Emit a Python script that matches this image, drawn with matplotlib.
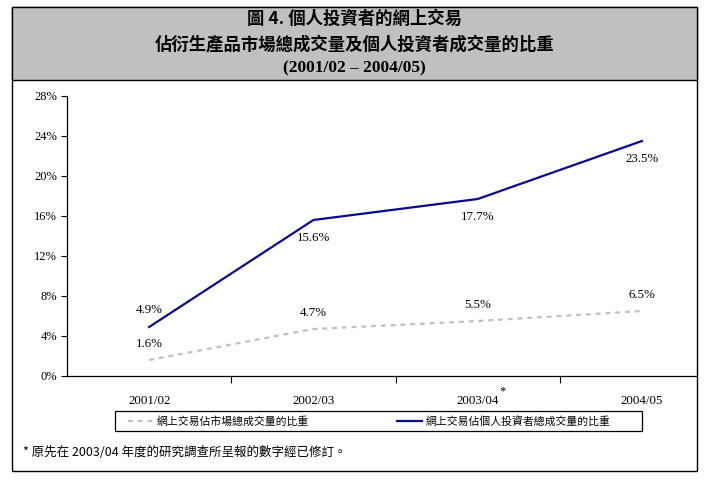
import matplotlib
matplotlib.use("Agg")
import matplotlib.pyplot as plt
from matplotlib.patches import Rectangle
from matplotlib.ticker import FuncFormatter, FixedLocator, NullFormatter

# ---- data ----
categories = ["2001/02", "2002/03", "2003/04", "2004/05"]
market_share = [1.6, 4.7, 5.5, 6.5]        # 網上交易佔市場總成交量的比重 (%)
retail_share = [4.9, 15.6, 17.7, 23.5]     # 網上交易佔個人投資者總成交量的比重 (%)
series_labels = ["網上交易佔市場總成交量的比重", "網上交易佔個人投資者總成交量的比重"]
title_lines = ["圖 4. 個人投資者的網上交易",
               "佔衍生產品市場總成交量及個人投資者成交量的比重",
               "(2001/02 – 2004/05)"]
footnote = "* 原先在 2003/04 年度的研究調查所呈報的數字經已修訂。"
yticks = [0, 4, 8, 12, 16, 20, 24, 28]

SERIF = ["Liberation Serif", "Noto Sans CJK TC", "DejaVu Sans"]
CJK = ["Noto Sans CJK TC", "DejaVu Sans"]

W, H = 709, 482
fig = plt.figure(figsize=(W / 100, H / 100), dpi=100)

def fx(px):
    return px / W

def fy(py):
    return 1 - py / H

# outer frame and title band
fig.patches.append(Rectangle((fx(12), fy(471)), fx(697) - fx(12), fy(7) - fy(471),
                             transform=fig.transFigure, facecolor="white",
                             edgecolor="black", lw=1.0, zorder=-2))
fig.patches.append(Rectangle((fx(12), fy(80)), fx(697) - fx(12), fy(7) - fy(80),
                             transform=fig.transFigure, facecolor="#c0c0c0",
                             edgecolor="black", lw=1.0, zorder=-1))
# legend frame
fig.patches.append(Rectangle((fx(115), fy(431)), fx(642) - fx(115), fy(411) - fy(431),
                             transform=fig.transFigure, facecolor="none",
                             edgecolor="black", lw=0.9, zorder=-1))

title_y = [19, 45, 68]
for t, yy in zip(title_lines, title_y):
    fig.text(0.5 * (fx(12) + fx(697)), fy(yy), t, ha="center", va="center",
             fontsize=12.5, fontweight="bold", family=SERIF if t.startswith("(") else CJK)

# axes
ax = fig.add_axes([fx(67), fy(376), fx(697) - fx(67), fy(96) - fy(376)])
ax.set_zorder(2)
ax.set_facecolor("none")
x = list(range(len(categories)))
l1, = ax.plot(x, market_share, color="#c0c0c0", lw=1.6, ls=(0, (2.2, 2.2)),
              label=series_labels[0])
l2, = ax.plot(x, retail_share, color="#0a0a8c", lw=1.6, label=series_labels[1])

ax.set_xlim(-0.5, 3.335)
ax.set_ylim(0, 28)
ax.yaxis.set_major_locator(FixedLocator(yticks))
ax.yaxis.set_major_formatter(FuncFormatter(lambda v, p: f"{v:.0f}%"))
ax.xaxis.set_major_locator(FixedLocator([0.5, 1.5, 2.5]))
ax.xaxis.set_major_formatter(NullFormatter())
ax.xaxis.set_minor_locator(FixedLocator(x))
ax.xaxis.set_minor_formatter(FuncFormatter(lambda v, p: categories[int(round(v))]))
ax.tick_params(axis="x", which="minor", length=0, pad=14, labelsize=9.3)
ax.tick_params(axis="x", which="major", length=5, direction="out", width=0.8)
ax.tick_params(axis="y", length=4, direction="out", width=0.8, labelsize=9, pad=3)
for lab in ax.get_xticklabels(minor=True) + ax.get_yticklabels():
    lab.set_family(SERIF)
for s in ["top", "right"]:
    ax.spines[s].set_visible(False)
for s in ["left", "bottom"]:
    ax.spines[s].set_linewidth(0.9)

# asterisk on 2003/04
ax.annotate("*", xy=(2, 0), xycoords=("data", "axes fraction"), xytext=(15.3, -11),
            textcoords="offset points", ha="left", va="center", fontsize=9, family=SERIF)

# data labels
for i, v in enumerate(market_share):
    ax.annotate(f"{v:.1f}%", xy=(i, v), xytext=(0, 11.5), textcoords="offset points",
                ha="center", va="center", fontsize=9.3, family=SERIF)
for i, v in enumerate(retail_share):
    off = 12 if i == 0 else -13
    ax.annotate(f"{v:.1f}%", xy=(i, v), xytext=(0, off), textcoords="offset points",
                ha="center", va="center", fontsize=9.3, family=SERIF)

# legend (frameless, positioned inside drawn frame)
leg_fs = 7.8
gap_px = 393 - 305
leg = fig.legend(handles=[l1, l2], loc="center left",
                 bbox_to_anchor=(fx(128), fy(421)),
                 ncol=2, frameon=False,
                 prop={"family": CJK, "size": leg_fs}, handlelength=2.3, handletextpad=0.35,
                 borderpad=0, borderaxespad=0, columnspacing=gap_px / (leg_fs * 100 / 72))

fig.text(fx(23), fy(453), footnote, ha="left", va="center", fontsize=9, family=CJK)

fig.savefig("out.png", dpi=100)
